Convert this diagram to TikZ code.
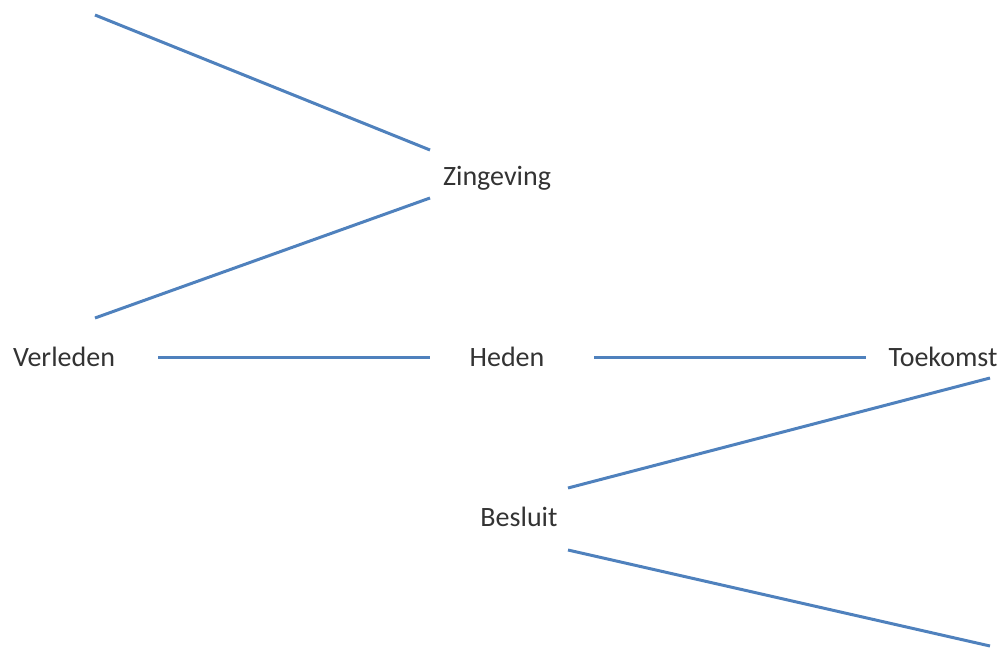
\documentclass[tikz,border=0pt]{standalone}
\usepackage{fontspec}
\setmainfont{Carlito}
\definecolor{lineblue}{HTML}{4F81BD}
\definecolor{txt}{HTML}{333333}
\tikzset{
  lbl/.style={inner sep=0pt, text=txt, font=\fontsize{28}{32}\selectfont},
  conn/.style={draw=lineblue, line width=3pt}
}
\begin{document}
\begin{tikzpicture}[x=1pt,y=-1pt]
\useasboundingbox (0,0) rectangle (1004,648);
\node[lbl] (verleden) at (64,357) {Verleden};
\node[lbl] (zingeving) at (497,178) {Zingeving};
\node[lbl] (heden) at (507,357) {Heden};
\node[lbl] (toekomst) at (943,357) {Toekomst};
\node[lbl] (besluit) at (519,517) {Besluit};
% endpoints
\coordinate (z1) at (95,15);
\coordinate (z1e) at (430,150);
\coordinate (z2) at (95,318);
\coordinate (z2e) at (430,198);
\coordinate (vh1) at (158,357);
\coordinate (vh2) at (430,357);
\coordinate (ht1) at (594,357);
\coordinate (ht2) at (866,357);
\coordinate (b1) at (568,488);
\coordinate (b1e) at (990,378);
\coordinate (b2) at (568,550);
\coordinate (b2e) at (990,646);
\draw[conn] (z1) -- (z1e);
\draw[conn] (z2) -- (z2e);
\draw[conn] (vh1) -- (vh2);
\draw[conn] (ht1) -- (ht2);
\draw[conn] (b1) -- (b1e);
\draw[conn] (b2) -- (b2e);
\end{tikzpicture}
\end{document}
